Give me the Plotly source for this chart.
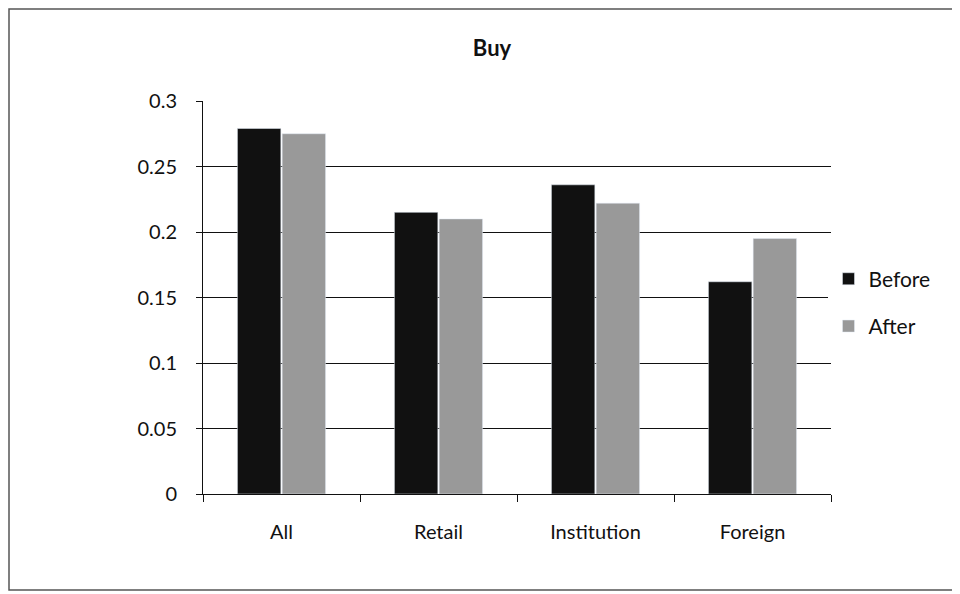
import plotly.graph_objs as go


categories = ['All', 'Retail', 'Institution', 'Foreign']
before = [0.279, 0.215, 0.236, 0.162]
after = [0.275, 0.210, 0.222, 0.195]

FONT = 'Lato, Open Sans, sans-serif'

# page body has an 8px margin, so the figure is laid out 8px up/left
OFF = 8


def get_figure():
    fig = go.Figure()

    fig.add_trace(go.Bar(x=categories, y=before, name='Before',
                         marker_color='#111111', legendgroup='b'))
    fig.add_trace(go.Bar(x=categories, y=after, name='After',
                         marker_color='#999999', legendgroup='a'))

    W, H = 960 - OFF, 594 - OFF
    l, t = 203 - OFF, 101 - OFF
    pw, ph = 628, 393

    # outer chart border, in figure px
    bx0, bx1, by0, by1 = 1, 949, 1, 582
    fig.add_shape(type='rect', xref='paper', yref='paper',
                  x0=(bx0 - l) / pw, x1=(bx1 - l) / pw,
                  y0=(t + ph - by1) / ph, y1=(t + ph - by0) / ph,
                  line=dict(color='#555555', width=1.5), layer='below')

    fig.update_layout(
        width=W, height=H,
        margin=dict(l=l, r=W - l - pw, t=t, b=H - t - ph),
        paper_bgcolor='white', plot_bgcolor='white',
        font=dict(family=FONT, size=20, color='#111111'),
        title=dict(text='<b>Buy</b>', x=(492 - OFF) / W, xanchor='center',
                   y=1 - (48 - OFF) / H, yanchor='middle',
                   font=dict(size=22, family=FONT)),
        barmode='group', bargap=0.43, bargroupgap=0.03,
        showlegend=True,
        legend=dict(x=0.996, xanchor='left', y=0.487, yanchor='middle',
                    font=dict(size=21, family=FONT),
                    traceorder='grouped', tracegroupgap=17,
                    itemwidth=30),
    )

    fig.update_xaxes(showline=True, linecolor='#111111', linewidth=1,
                     ticks='outside', tickson='boundaries', ticklen=7,
                     tickcolor='#111111', showgrid=False,
                     ticklabelstandoff=20)
    fig.update_yaxes(range=[0, 0.3], dtick=0.05, showline=True,
                     linecolor='#111111', linewidth=1, ticks='outside',
                     ticklen=6, tickcolor='#111111', showgrid=True,
                     gridcolor='#111111', gridwidth=1, zeroline=False,
                     ticklabelstandoff=15)

    return fig


fig = get_figure()
fig.write_html("out.html")
